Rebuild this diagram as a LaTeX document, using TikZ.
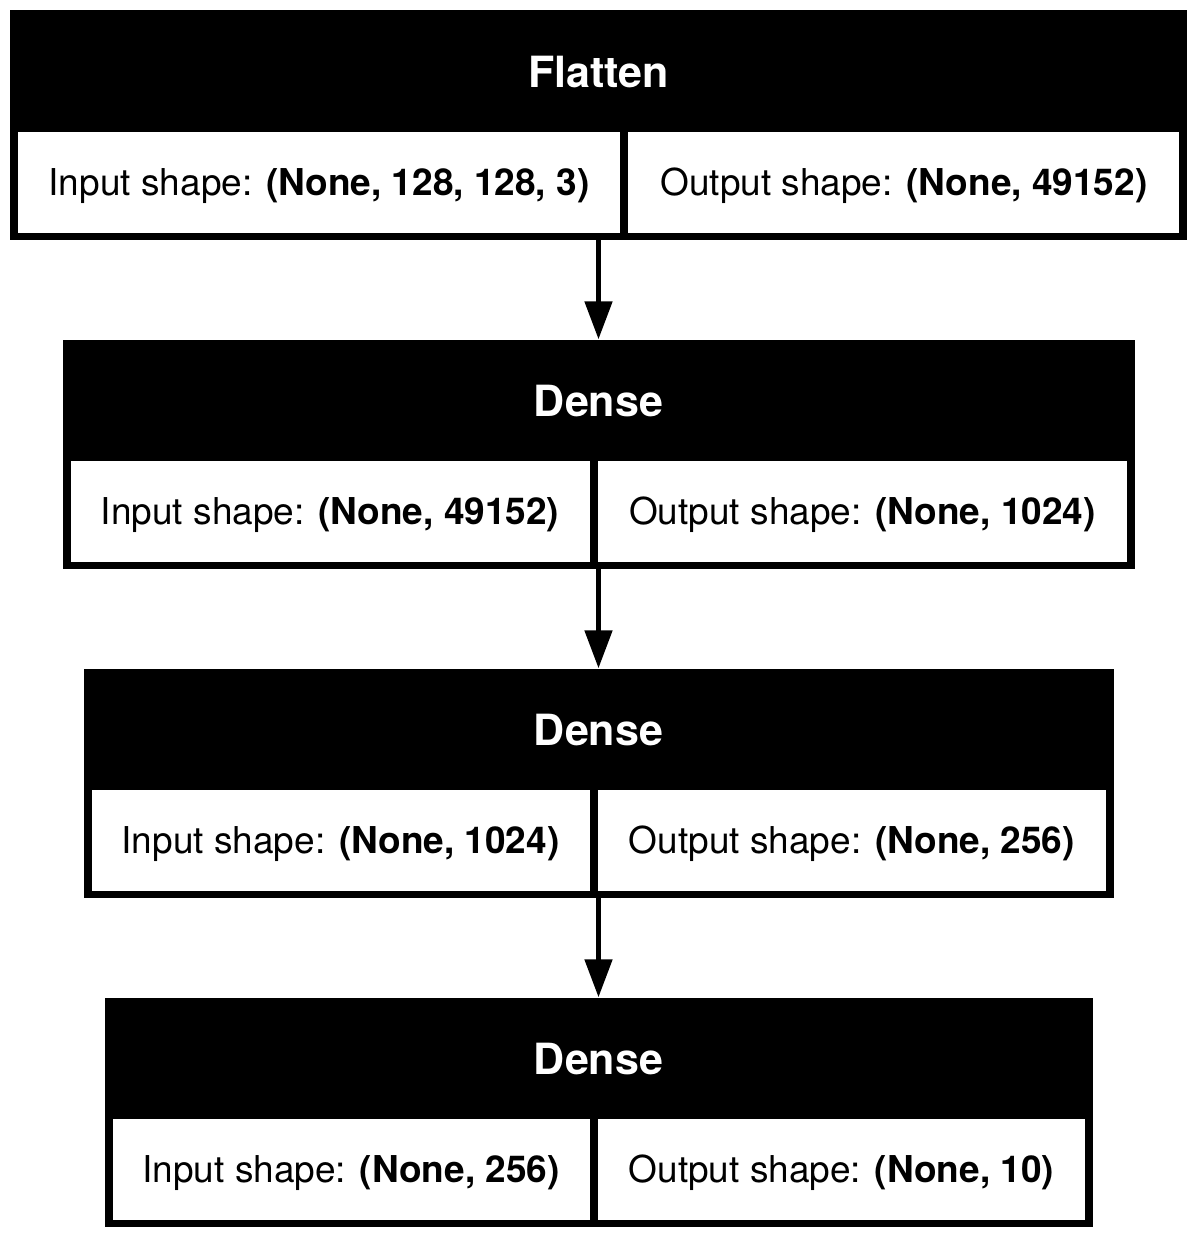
\documentclass[tikz,border=0pt]{standalone}
\usepackage{fontspec}
\setmainfont{TeX Gyre Heros}
\usetikzlibrary{arrows.meta, positioning}
\tikzstyle{layer} = [rectangle, minimum height=229pt, inner sep=0pt, fill=black]
\tikzstyle{title} = [text=white, inner sep=0pt, font=\fontsize{43}{50}\selectfont\bfseries]
\tikzstyle{cell} = [rectangle, anchor=north west, minimum height=101pt, inner sep=0pt, text height=30pt, text depth=3pt, fill=white, font=\fontsize{37}{44}\selectfont]
\tikzstyle{arrow} = [line width=5pt, -{Triangle[length=38pt, width=27pt]}]

\begin{document}
\begin{tikzpicture}[x=1pt, y=-1pt, node distance=329pt]
  \useasboundingbox (0,0) rectangle (1197,1239);
  \node (flat) [layer, minimum width=1177pt] at (598.5,125) {};
  \node (dense1) [layer, minimum width=1072pt, below of=flat] {};
  \node (dense2) [layer, minimum width=1030pt, below of=dense1] {};
  \node (dense3) [layer, minimum width=988pt, below of=dense2] {};

  \node (flatname) [title] at ([yshift=-61.5pt]flat.north) {Flatten};
  \node (dense1name) [title] at ([yshift=-61.5pt]dense1.north) {Dense};
  \node (dense2name) [title] at ([yshift=-61.5pt]dense2.north) {Dense};
  \node (dense3name) [title] at ([yshift=-61.5pt]dense3.north) {Dense};

  \node (flatin) [cell, minimum width=602pt] at ([shift={(8,121)}]flat.north west) {Input shape: \textbf{(None, 128, 128, 3)}};
  \node (flatout) [cell, minimum width=551pt] at ([xshift=8pt]flatin.north east) {Output shape: \textbf{(None, 49152)}};
  \node (dense1in) [cell, minimum width=519pt] at ([shift={(8,121)}]dense1.north west) {Input shape: \textbf{(None, 49152)}};
  \node (dense1out) [cell, minimum width=529pt] at ([xshift=8pt]dense1in.north east) {Output shape: \textbf{(None, 1024)}};
  \node (dense2in) [cell, minimum width=498pt] at ([shift={(8,121)}]dense2.north west) {Input shape: \textbf{(None, 1024)}};
  \node (dense2out) [cell, minimum width=508pt] at ([xshift=8pt]dense2in.north east) {Output shape: \textbf{(None, 256)}};
  \node (dense3in) [cell, minimum width=477pt] at ([shift={(8,121)}]dense3.north west) {Input shape: \textbf{(None, 256)}};
  \node (dense3out) [cell, minimum width=487pt] at ([xshift=8pt]dense3in.north east) {Output shape: \textbf{(None, 10)}};

  \draw [arrow] (flat) -- (dense1);
  \draw [arrow] (dense1) -- (dense2);
  \draw [arrow] (dense2) -- (dense3);
\end{tikzpicture}
\end{document}
